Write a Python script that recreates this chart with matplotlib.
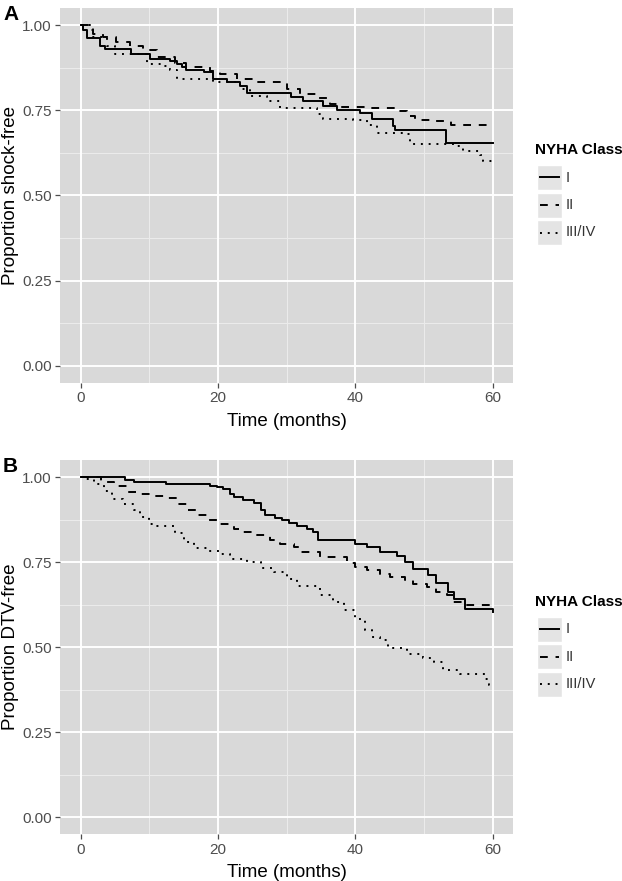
import matplotlib
matplotlib.use("Agg")
import matplotlib.pyplot as plt
from matplotlib.lines import Line2D

plt.rcParams['font.family'] = ['Liberation Sans', 'DejaVu Sans']

# ---------------- data ----------------
classes = ["I", "II", "III/IV"]
x_ticks = [0, 20, 40, 60]
y_ticks = [0.00, 0.25, 0.50, 0.75, 1.00]
y_tick_labels = ["0.00", "0.25", "0.50", "0.75", "1.00"]

# Panel A: shock-free
a_I_t = [0, 0.4, 0.9, 2.8, 3.5, 7.4, 10.1, 13.0, 14.0, 14.7, 15.4, 17.9, 19.3, 21.3, 23.2, 24.2,
         30.7, 32.4, 35.3, 37.3, 40.7, 42.4, 45.5, 45.8, 53.2, 60.0]
a_I_s = [1.0, 0.985, 0.962, 0.938, 0.931, 0.916, 0.899, 0.896, 0.886, 0.876, 0.867, 0.862, 0.842,
         0.832, 0.822, 0.802, 0.790, 0.778, 0.763, 0.751, 0.743, 0.723, 0.704, 0.691, 0.653, 0.653]

a_II_t = [0, 1.4, 1.8, 3.3, 5.2, 7.2, 9.1, 11.1, 13.7, 15.4, 18.8, 20.3, 22.7, 25.1, 30.0, 31.9,
          34.4, 36.3, 37.8, 41.7, 46.0, 47.5, 48.7, 51.4, 54.0, 59.1]
a_II_s = [1.0, 0.985, 0.975, 0.965, 0.95, 0.94, 0.926, 0.906, 0.89, 0.876, 0.864, 0.857, 0.842,
          0.832, 0.812, 0.797, 0.785, 0.768, 0.761, 0.758, 0.748, 0.733, 0.721, 0.718, 0.707, 0.707]

a_III_t = [0, 1.8, 3.8, 5.0, 9.6, 12.0, 13.0, 14.0, 19.3, 23.2, 24.7, 27.1, 29.0, 34.4, 35.3, 39.7,
           41.7, 43.1, 47.0, 48.0, 54.8, 55.7, 58.2, 58.6, 60.0]
a_III_s = [1.0, 0.965, 0.94, 0.916, 0.886, 0.88, 0.867, 0.842, 0.834, 0.812, 0.792, 0.778, 0.758,
           0.738, 0.723, 0.721, 0.708, 0.683, 0.679, 0.651, 0.644, 0.631, 0.620, 0.600, 0.600]

# Panel B: DTV-free
b_I_t = [0, 6.5, 7.8, 12.4, 18.9, 19.9, 20.8, 21.8, 22.3, 23.7, 25.2, 26.2, 26.9, 28.3, 29.3, 30.3,
         31.5, 32.9, 33.9, 34.6, 40.0, 41.7, 43.6, 46.0, 47.2, 48.4, 50.6, 51.8, 53.5, 54.3, 56.0,
         60.0]
b_I_s = [1.0, 0.990, 0.985, 0.978, 0.975, 0.971, 0.966, 0.951, 0.941, 0.933, 0.924, 0.902, 0.887,
         0.880, 0.874, 0.865, 0.855, 0.846, 0.838, 0.816, 0.804, 0.794, 0.779, 0.767, 0.750, 0.730,
         0.711, 0.688, 0.662, 0.642, 0.613, 0.603]

b_II_t = [0, 2.9, 4.8, 6.8, 8.7, 10.4, 12.1, 14.0, 15.5, 17.0, 18.4, 20.3, 22.3, 23.7, 25.7, 27.6,
          29.1, 31.0, 32.0, 34.9, 38.8, 40.0, 41.7, 43.6, 45.1, 47.2, 48.4, 50.4, 51.8, 53.3, 54.2,
          55.9, 60.0]
b_II_s = [1.0, 0.985, 0.973, 0.956, 0.949, 0.943, 0.939, 0.922, 0.904, 0.887, 0.873, 0.863, 0.848,
          0.838, 0.829, 0.816, 0.804, 0.794, 0.780, 0.765, 0.747, 0.737, 0.726, 0.716, 0.706, 0.696,
          0.686, 0.676, 0.662, 0.652, 0.632, 0.623, 0.610]

b_III_t = [0, 0.24, 1.9, 3.4, 4.6, 6.1, 7.8, 8.7, 9.9, 10.7, 13.8, 15.0, 16.5, 18.4, 20.3, 21.8,
           24.2, 26.2, 28.1, 30.0, 31.5, 34.9, 36.8, 38.3, 40.0, 41.4, 42.4, 43.6, 44.8, 47.5, 49.9,
           51.4, 52.8, 55.2, 58.9, 59.4, 60.0]
b_III_s = [1.0, 0.995, 0.980, 0.959, 0.936, 0.922, 0.902, 0.882, 0.863, 0.855, 0.834, 0.809, 0.792,
           0.782, 0.775, 0.758, 0.750, 0.733, 0.721, 0.701, 0.679, 0.652, 0.632, 0.608, 0.583, 0.549,
           0.529, 0.522, 0.498, 0.480, 0.469, 0.456, 0.433, 0.420, 0.407, 0.390, 0.382]

panels = [
    ("A", "Proportion shock-free",
     [(a_I_t, a_I_s), (a_II_t, a_II_s), (a_III_t, a_III_s)]),
    ("B", "Proportion DTV-free",
     [(b_I_t, b_I_s), (b_II_t, b_II_s), (b_III_t, b_III_s)]),
]

# ---------------- style ----------------
W, H = 622, 881
PANEL_BG = "#D9D9D9"
KEY_BG = "#E4E4E4"
MINOR = "#ECECEC"
LW = 1.4
styles = [
    dict(linestyle="-"),
    dict(linestyle=(0, (4, 4))),
    dict(linestyle=(0, (1, 3))),
]

fig = plt.figure(figsize=(W / 100, H / 100), dpi=100)

# pixel boxes: (left, top, right, bottom)
boxes = [(60, 8, 513.3, 383), (60, 460, 513.3, 834.3)]

for (label, ylab, series), (l, t, r, b) in zip(panels, boxes):
    ax = fig.add_axes([l / W, 1 - b / H, (r - l) / W, (b - t) / H])
    ax.set_facecolor(PANEL_BG)
    ax.set_xlim(-3, 63)
    ax.set_ylim(-0.05, 1.05)
    for s in ax.spines.values():
        s.set_visible(False)
    # grid
    for xv in [10, 30, 50]:
        ax.axvline(xv, color=MINOR, lw=0.7, zorder=0.5)
    for yv in [0.125, 0.375, 0.625, 0.875]:
        ax.axhline(yv, color=MINOR, lw=0.7, zorder=0.5)
    for xv in x_ticks:
        ax.axvline(xv, color="white", lw=1.4, zorder=0.6)
    for yv in y_ticks:
        ax.axhline(yv, color="white", lw=1.4, zorder=0.6)

    for (tt, ss), st in zip(series, styles):
        ax.step(tt, ss, where="post", color="black", lw=LW, zorder=2, **st)

    ax.set_xticks(x_ticks)
    ax.set_xticklabels([str(v) for v in x_ticks])
    ax.set_yticks(y_ticks)
    ax.set_yticklabels(y_tick_labels)
    ax.tick_params(axis="both", colors="#4D4D4D", labelcolor="#4D4D4D",
                   length=3.8, width=0.9, labelsize=11, pad=2.2)
    ax.set_xlabel("Time (months)", fontsize=13.5, color="black", labelpad=5.5)
    ax.set_ylabel(ylab, fontsize=13.5, color="black", labelpad=2)

    fig.text(3 / W, 1 - (t + 6) / H, label, fontsize=15, fontweight="bold",
             ha="left", va="center")

    # legend (manual, ggplot-like)
    cy = (t + b) / 2
    title_y = cy - 45
    fig.text(535 / W, 1 - title_y / H, "NYHA Class", fontsize=11, fontweight="bold",
             ha="left", va="center")
    for i, (name, st) in enumerate(zip(classes, styles)):
        ky = title_y + 27 + i * 27.5
        kax = fig.add_axes([536.5 / W, 1 - (ky + 12.5) / H, 25.5 / W, 25 / H])
        kax.set_facecolor(KEY_BG)
        kax.set_xlim(0, 1)
        kax.set_ylim(0, 1)
        kax.set_xticks([])
        kax.set_yticks([])
        for s in kax.spines.values():
            s.set_color("white")
            s.set_linewidth(1.0)
        kax.add_line(Line2D([0.12, 0.88], [0.5, 0.5], color="black", lw=LW, **st))
        fig.text(566 / W, 1 - ky / H, name, fontsize=10.5, color="#333333",
                 ha="left", va="center")

fig.savefig("out.png", dpi=100)
